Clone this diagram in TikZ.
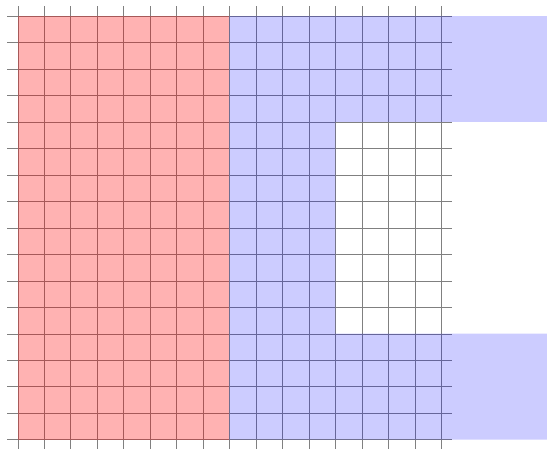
\documentclass[tikz,border=0pt]{standalone}
\usepackage{tikz}

\begin{document}
\begin{tikzpicture}
  % Frame
  \useasboundingbox (-0.67,-0.33) rectangle (20,16.61);
  % Corners
  \coordinate (BL) at (0,0);
  \coordinate (M) at (8,16);
  \coordinate (BR) at (20,0);
  \coordinate (TR) at (20,16);
  % Grid
  \draw[gray] (-0.4,-0.4) grid (16.4,16.4);
  % Red block
  \fill[red, opacity=0.3] (BL) rectangle (M);
  % Blue block with notch
  \fill[blue, opacity=0.2] (8,0) -- (BR) -- (20,4) -- (12,4) -- (12,12)
    -- (20,12) -- (TR) -- (M) -- cycle;
\end{tikzpicture}
\end{document}
